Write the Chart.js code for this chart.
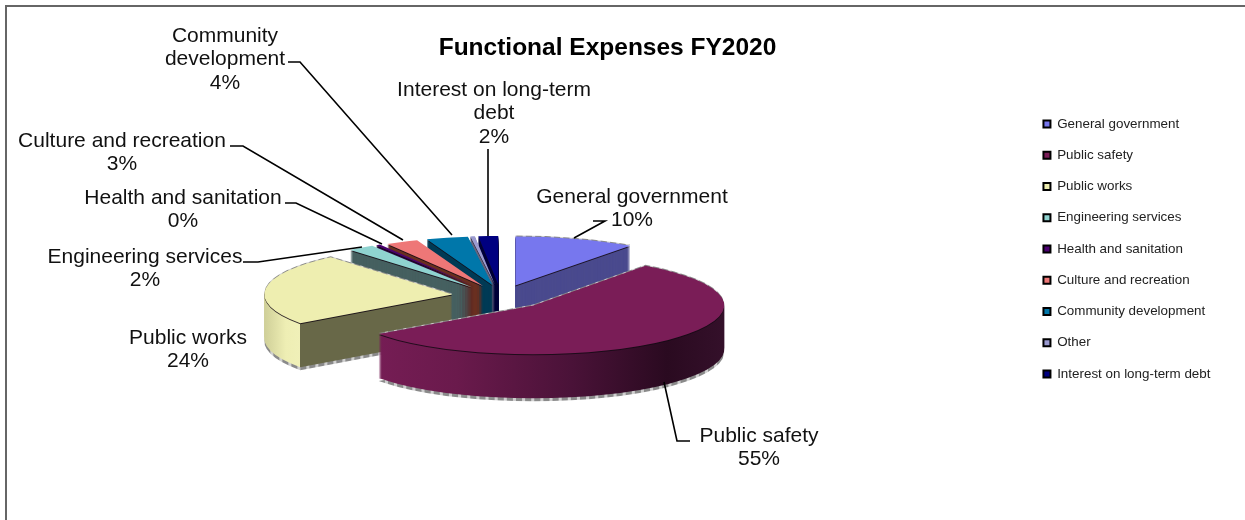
<!DOCTYPE html>
<html>
<head>
<meta charset="utf-8">
<title>Functional Expenses FY2020</title>
<script src="https://cdn.jsdelivr.net/npm/chart.js@4"></script>
<style>
  html, body { margin: 0; padding: 0; background: #fff; }
  canvas { display: block; }
</style>
</head>
<body>
<canvas id="chartExpenses" width="1245" height="520"></canvas>
<script>
const categories = ['General government', 'Public safety', 'Public works', 'Engineering services',
  'Health and sanitation', 'Culture and recreation', 'Community development', 'Other', 'Interest on long-term debt'];
const percentages = [10, 55, 23.8, 2.3, 0.4, 2.8, 3.6, 0.4, 1.7];

const topColors = ['#7777ee', '#7a1d57', '#eeeeb0', '#8fd3d0', '#4b0070', '#ee7777', '#0077aa', '#9a9ad0', '#000080'];
const wallColors = ['#4a4a8e', '#7a1e58', '#686848', '#466060', '#2a0040', '#6a3020', '#003a55', '#666680', '#00003a'];
const drawOrder = [0, 8, 7, 6, 5, 4, 3, 2, 1];

// pie geometry on the page
const centerX = 503, centerY = 293, pieRadius = 188;
const depth = 44, explode = 51;
// the original has perspective, so far slices are flatter than near ones
const sliceSquash = [0.26, 0.26, 0.26, 0.26, 0.26, 0.26, 0.26, 0.26, 0.26];
const sliceStretch = [1.04, 1.016, 1, 1, 1, 1, 1, 1, 1];
const sliceShiftX = [-4, -6.4, 0, -1, -1, 2, 2, -2, -2];
const sliceShiftY = [5, 3, 3, 5, 5, 5, 5, 5, 5];

// where each label sits, null for the slice without one
const labelLines = [['General government'], ['Public safety'], ['Public works'], ['Engineering services'],
  ['Health and sanitation'], ['Culture and recreation'], ['Community', 'development'], null, ['Interest on long-term', 'debt']];
const labelX = [632, 759, 188, 145, 183, 122, 225, 0, 494];
const labelY = [197, 436, 338, 257, 198, 141, 36, 0, 90];
const leaders = [
  [[593, 221], [605, 221], [574, 238]],
  [[690, 441], [677, 441], [664, 382]],
  null,
  [[243, 262], [258, 262], [362, 247]],
  [[285, 203], [296, 203], [382, 244]],
  [[230, 146], [243, 146], [403, 240]],
  [[288, 62], [300, 62], [452, 235]],
  null,
  [[488, 149], [488, 236]]
];

function sideFill(ctx, arc, i) {
  const g = ctx.createLinearGradient(arc.x - pieRadius, 0, arc.x + pieRadius, 0);
  if (i === 1) {
    g.addColorStop(0, '#7a1e58');
    g.addColorStop(0.3, '#6a1a4c');
    g.addColorStop(0.6, '#4a1238');
    g.addColorStop(0.85, '#2a0a20');
    g.addColorStop(1, '#34102a');
    return g;
  }
  if (i === 2) {
    // rim left of the wall corner, flat cut wall right of it
    const u = (1 + Math.cos(arc.startAngle)) / 2;
    g.addColorStop(0, '#cfcf98');
    g.addColorStop(u * 0.6, '#eeeeb4');
    g.addColorStop(u, '#f0f0b8');
    g.addColorStop(u, wallColors[i]);
    g.addColorStop(1, wallColors[i]);
    return g;
  }
  return wallColors[i];
}

function drawLayer(ctx, arc, i, fill, dy) {
  const mid = (arc.startAngle + arc.endAngle) / 2;
  const saved = arc.options;
  arc.options = Object.assign({}, saved, { backgroundColor: fill, borderWidth: 0 });
  ctx.save();
  ctx.translate(arc.x + sliceShiftX[i], arc.y + sliceShiftY[i] + dy);
  ctx.scale(sliceStretch[i], sliceSquash[i]);
  ctx.translate(-arc.x, -arc.y);
  ctx.translate(Math.cos(mid) * explode, Math.sin(mid) * explode);
  arc.draw(ctx);
  ctx.restore();
  arc.options = saved;
}

function dashedShadow(ctx) {
  const tile = document.createElement('canvas');
  tile.width = 9; tile.height = 1;
  const t = tile.getContext('2d');
  t.fillStyle = '#8a8a8a'; t.fillRect(0, 0, 6, 1);
  t.fillStyle = '#d0d0d0'; t.fillRect(6, 0, 3, 1);
  return ctx.createPattern(tile, 'repeat');
}

const pie3d = {
  id: 'pie3d',
  afterLayout(chart) {
    // pie, title and legend each have a fixed place in the reference
    chart.chartArea = {
      left: centerX - pieRadius, right: centerX + pieRadius, top: centerY - pieRadius, bottom: centerY + pieRadius,
      width: pieRadius * 2, height: pieRadius * 2
    };
    const title = chart.titleBlock;
    title.left = 0; title.right = 1215; title.top = 34; title.bottom = title.top + title.height;
    const legend = chart.legend;
    const h = legend.height;
    legend.left = 1025.6; legend.right = legend.left + legend.width;
    legend.top = 249 - h / 2; legend.bottom = legend.top + h;
  },
  beforeDraw(chart) {
    // only the top and left rules of the frame are in the picture
    const ctx = chart.ctx;
    ctx.save();
    ctx.strokeStyle = '#666';
    ctx.lineWidth = 2;
    ctx.beginPath();
    ctx.moveTo(6, 520);
    ctx.lineTo(6, 6);
    ctx.lineTo(1245, 6);
    ctx.stroke();
    ctx.restore();
  },
  beforeDatasetsDraw(chart) {
    const ctx = chart.ctx;
    const arcs = chart.getDatasetMeta(0).data;
    drawOrder.forEach(i => {
      const arc = arcs[i];
      if (i <= 2) drawLayer(ctx, arc, i, dashedShadow(ctx), -1);
      if (i === 1 || i === 2) drawLayer(ctx, arc, i, dashedShadow(ctx), depth + 3);
      const side = sideFill(ctx, arc, i);
      for (let k = depth; k >= 2; k--) drawLayer(ctx, arc, i, side, k);
      drawLayer(ctx, arc, i, 'rgba(20,10,20,0.85)', 1);
      drawLayer(ctx, arc, i, topColors[i], 0);
    });
    return false;
  },
  afterDraw(chart) {
    const ctx = chart.ctx;
    ctx.save();
    ctx.strokeStyle = '#000';
    ctx.lineWidth = 1.6;
    leaders.forEach(pts => {
      if (!pts) return;
      ctx.beginPath();
      pts.forEach((p, n) => n ? ctx.lineTo(p[0], p[1]) : ctx.moveTo(p[0], p[1]));
      ctx.stroke();
    });
    ctx.fillStyle = '#111';
    ctx.font = '21px "Liberation Sans"';
    ctx.textAlign = 'center';
    ctx.textBaseline = 'middle';
    labelLines.forEach((lines, i) => {
      if (!lines) return;
      lines.concat(Math.round(percentages[i]) + '%').forEach((s, n) => {
        ctx.fillText(s, labelX[i], labelY[i] + n * 23.5);
      });
    });
    ctx.restore();
  }
};

new Chart(document.getElementById('chartExpenses').getContext('2d'), {
  type: 'pie',
  data: {
    labels: categories,
    datasets: [{
      data: percentages,
      backgroundColor: topColors,
      borderWidth: 0
    }]
  },
  options: {
    responsive: false,
    animation: false,
    devicePixelRatio: 1,
    radius: pieRadius,
    plugins: {
      title: {
        display: true,
        text: 'Functional Expenses FY2020',
        color: '#000',
        font: { family: '"Liberation Sans"', size: 24.5, weight: 'bold' },
        padding: 0
      },
      legend: {
        position: 'right',
        labels: {
          boxWidth: 7,
          boxHeight: 7,
          padding: 17.85,
          color: '#222',
          font: { family: '"Liberation Sans"', size: 13.4 },
          generateLabels(chart) {
            const items = Chart.overrides.doughnut.plugins.legend.labels.generateLabels(chart);
            items.forEach(it => { it.strokeStyle = '#000'; it.lineWidth = 2; });
            return items;
          }
        }
      },
      tooltip: { enabled: false }
    }
  },
  plugins: [pie3d]
});
</script>
</body>
</html>
